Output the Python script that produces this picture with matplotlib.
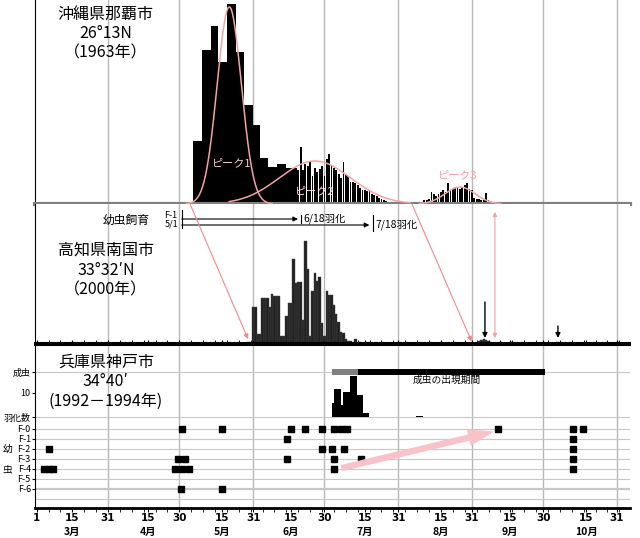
import numpy as np
import matplotlib
matplotlib.use('Agg')
import matplotlib.pyplot as plt
from matplotlib.patches import ConnectionPatch
from matplotlib.transforms import blended_transform_factory

# 日本語フォント
plt.rcParams['font.family'] = ['Noto Sans CJK JP', 'DejaVu Sans']

# ---- データ（横軸は3月1日=1 とした通日）----
month_end_days = [31, 61, 92, 122, 153, 184, 214, 245]
tick_days = [1, 16, 31, 48, 61, 79, 92, 108, 122, 139, 153, 171, 184, 200, 214, 232, 245]
tick_labels = ['1', '15', '31', '15', '30', '15', '31', '15', '30',
               '15', '31', '15', '31', '15', '30', '15', '31']
month_days = [16, 48, 79, 108, 139, 171, 200, 232]
month_labels = ['3月', '4月', '5月', '6月', '7月', '8月', '9月', '10月']

# 沖縄（1963年）: 前半は半旬ほどの階級、後半は日別
okinawa_bin_edges = [66.9, 70.7, 74.2, 77.4, 80.9, 84.7, 88.3, 91.8, 94.9, 98.4, 101.9, 105.9, 109.6]
okinawa_bin_counts = [63, 154, 178, 142, 200, 152, 99, 79, 46, 37, 40, 36]
okinawa_days = list(range(110, 152)) + list(range(158, 193))
okinawa_counts = [36, 34, 57, 34, 40, 38, 42, 28, 36, 32, 35, 38, 28, 45, 50, 38, 36, 34, 30, 26,
                  42, 30, 28, 22, 22, 21, 19, 16, 14, 14, 13, 13, 10, 9, 8, 6, 5, 4, 3, 2, 2, 1,
                  1, 2, 1, 2, 1, 2, 4, 4, 5, 12, 10, 8, 10, 12, 14, 12, 21, 14, 15, 16, 16, 15,
                  17, 19, 21, 15, 14, 6, 5, 5, 4, 4, 11, 4, 2]

# 正規分布のあてはめ（ピーク1〜3）
peak_centers = [82.0, 118.0, 179.0]
peak_sigmas = [5.1, 15.0, 6.3]
peak_heights = [197, 43, 17]
peak_from = [64, 82, 162]
peak_to = [100, 158, 196]

# 高知（2000年）日別
kochi_days = list(range(90, 138)) + [187, 188, 189, 190, 191, 192, 196, 201, 220]
kochi_counts = [1, 1, 36, 36, 9, 9, 45, 45, 45, 36, 49, 47, 47, 47, 7, 7, 27, 40, 40, 84,
                60, 61, 61, 23, 102, 74, 7, 52, 70, 62, 66, 20, 7, 52, 48, 48, 38, 29, 21, 11,
                10, 4, 2, 2, 0, 4, 0, 1,
                2, 3, 4, 3, 2, 1, 1, 1, 1]

# 神戸（1992-1994年）
row_labels = ['F-0', 'F-1', 'F-2', 'F-3', 'F-4', 'F-5', 'F-6']
f0_days = [62.3, 79.1, 107.8, 113.8, 120.8, 126.2, 129.0, 131.3, 195.1, 226.6, 230.9]
f1_days = [106.1, 226.6]
f2_days = [6.0, 121.0, 125.0, 130.2, 226.6]
f3_days = [60.4, 63.4, 106.1, 126.1, 137.4, 226.6]
f4_days = [4.0, 6.0, 8.0, 59.0, 62.0, 65.0, 126.1, 226.6]
f5_days = []
f6_days = [61.9, 79.1]
emerge_edges = [125.1, 126.0, 128.9, 129.7, 132.8, 135.6, 138.4, 140.9, 160.5, 163.5]
emerge_counts = [5.7, 11.5, 5.0, 10.3, 17.1, 9.2, 1.7, 0, 0.5]
adult_first = 125.0
adult_main = 136.0
adult_last = 214.8

fig = plt.figure(figsize=(6.4, 5.38), dpi=100)
L, W = 35 / 640, 595 / 640
ax1 = fig.add_axes([L, 1 - 204 / 538, W, 204 / 538])
ax2 = fig.add_axes([L, 1 - 343 / 538, W, 139 / 538], sharex=ax1)
ax3 = fig.add_axes([L, 1 - 508 / 538, W, 163 / 538], sharex=ax1)
ax3b = fig.add_axes([L, 1 - 508 / 538, W, 163 / 538], sharex=ax1)
ax3b.patch.set_visible(False)
ax3b.axis('off')

ax1.set_xlim(0.3, 250.5)
for ax in (ax1, ax2, ax3):
    for d in month_end_days:
        ax.axvline(d, color='#b8b8b8', lw=1, zorder=0)
    ax.spines['right'].set_visible(False)
    ax.set_xticks(np.arange(1, 250, 5), minor=True)

# ---- 沖縄 ----
ax1.stairs(okinawa_bin_counts, okinawa_bin_edges, fill=True, color='black', zorder=2)
ax1.bar(okinawa_days, okinawa_counts, width=0.75, color='black', zorder=2)
for c, s, h, a, b in zip(peak_centers, peak_sigmas, peak_heights, peak_from, peak_to):
    xs = np.linspace(a, b, 200)
    ax1.plot(xs, h * np.exp(-0.5 * ((xs - c) / s) ** 2), color='#f2a4a4', lw=1.1, zorder=3)
ax1.text(83.1, 41, 'ピーク1', color='#ffcccc', fontsize=8, ha='center', va='center', zorder=4)
ax1.text(118, 13, 'ピーク2', color='#ffd6d6', fontsize=8, ha='center', va='center', zorder=4)
ax1.text(178.2, 29, 'ピーク3', color='#ff9c9c', fontsize=8, ha='center', va='center', zorder=4)
ax1.set_ylim(0, 204)
ax1.spines['top'].set_visible(False)
ax1.spines['bottom'].set_color('#808080')
ax1.spines['bottom'].set_linewidth(3)
ax1.set_yticks([])
ax1.tick_params(axis='x', which='both', labelbottom=False, direction='inout', length=3, color='black')
ax1.text(0.119, 0.836, '沖縄県那覇市\n26°13N\n（1963年）', transform=ax1.transAxes,
         ha='center', va='center', fontsize=11.5, linespacing=1.2)

# ---- 高知 ----
ax2.bar(kochi_days, kochi_counts, width=1.0, color='#222222', edgecolor='#444444', lw=0.3, zorder=2)
ax2.set_ylim(0, 139)
ax2.spines['top'].set_visible(False)
ax2.spines['bottom'].set_linewidth(1.5)
ax2.set_yticks([])
ax2.tick_params(axis='x', which='both', labelbottom=False, direction='inout', length=4)
ax2.text(0.119, 0.525, '高知県南国市\n33°32′N\n（2000年）', transform=ax2.transAxes,
         ha='center', va='center', fontsize=11.5, linespacing=1.2)

# 幼虫飼育の注記
ax2.text(48.7, 123, '幼虫飼育', fontsize=8.5, ha='right', va='center')
ax2.text(60.0, 128, 'F-1', fontsize=6.5, ha='right', va='center')
ax2.text(60.4, 119, '5/1', fontsize=6.5, ha='right', va='center')
ax2.plot([62, 62], [115, 133], color='black', lw=0.8)
ax2.annotate('', xy=(110.9, 124), xytext=(62, 124),
             arrowprops=dict(arrowstyle='-|>', color='black', lw=0.8, mutation_scale=7,
                             shrinkA=0, shrinkB=0))
ax2.plot([112, 112], [120, 128], color='black', lw=0.8)
ax2.text(113, 124, '6/18羽化', fontsize=7.5, ha='left', va='center')
ax2.annotate('', xy=(140.9, 118), xytext=(62, 118),
             arrowprops=dict(arrowstyle='-|>', color='black', lw=0.8, mutation_scale=7,
                             shrinkA=0, shrinkB=0))
ax2.plot([142.3, 142.3], [112, 128], color='black', lw=0.8)
ax2.text(143.3, 118, '7/18羽化', fontsize=7.5, ha='left', va='center')

# 矢印
ax2.annotate('', xy=(189.5, 5), xytext=(189.5, 41),
             arrowprops=dict(arrowstyle='-|>', color='black', lw=1, mutation_scale=7, shrinkA=0, shrinkB=0))
ax2.annotate('', xy=(220.2, 5), xytext=(220.2, 17),
             arrowprops=dict(arrowstyle='-|>', color='black', lw=1, mutation_scale=7, shrinkA=0, shrinkB=0))
ax2.annotate('', xy=(193.7, 5), xytext=(193.7, 131),
             arrowprops=dict(arrowstyle='<|-|>', color='#f4a0a0', lw=0.8, mutation_scale=6,
                             shrinkA=0, shrinkB=0))
for d1, d2, y2 in [(65.5, 89.9, 4), (158.8, 183.9, 1.5)]:
    con = ConnectionPatch(xyA=(d1, 0), coordsA=ax1.transData, xyB=(d2, y2), coordsB=ax2.transData,
                          arrowstyle='-|>', color='#f08a8a', lw=0.8, mutation_scale=7, zorder=5)
    fig.add_artist(con)

# ---- 神戸 ----
ax3.set_ylim(7.9, -8.4)
for y in [-5.7, -1.2, 0, 1, 2, 3, 4, 5, 7]:
    ax3.axhline(y, color='#c8c8c8', lw=0.8, zorder=0)
ax3.axhline(6, color='#c8c8c8', lw=1.6, zorder=0)
for i, days in enumerate([f0_days, f1_days, f2_days, f3_days, f4_days, f5_days, f6_days]):
    if days:
        ax3.plot(days, [i] * len(days), 's', color='black', ms=5, zorder=3)
ax3.barh(-5.7, adult_main - adult_first, left=adult_first, height=0.55, color='#808080', zorder=2)
ax3.barh(-5.7, adult_last - adult_main, left=adult_main, height=0.55, color='black', zorder=2)
ax3.text(173.5, -4.9, '成虫の出現期間', fontsize=7, ha='center', va='center')
ax3.annotate('', xy=(192.5, 0.3), xytext=(129.4, 3.9),
             arrowprops=dict(arrowstyle='simple,head_width=0.9,head_length=1.4,tail_width=0.3',
                             color='#f9c2c8', mutation_scale=12, shrinkA=0, shrinkB=0), zorder=4)

ax3b.set_ylim(-37.9, 30)
ax3b.stairs(emerge_counts, emerge_edges, fill=True, color='black')

ax3.set_yticks([-5.7, -3.6, -1.2, 0, 1, 2, 3, 4, 5, 6])
ax3.set_yticklabels(['成虫', '10', '羽化数'] + row_labels, fontsize=6.5)
ax3.tick_params(axis='y', length=2, pad=1)
trans = blended_transform_factory(ax3.transAxes, ax3.transData)
ax3.text(-0.046, 2, '幼', transform=trans, fontsize=7, ha='center', va='center')
ax3.text(-0.046, 4, '虫', transform=trans, fontsize=7, ha='center', va='center')
ax3.text(0.119, 0.776, '兵庫県神戸市\n34°40′\n(1992－1994年)', transform=ax3.transAxes,
         ha='center', va='center', fontsize=11.5, linespacing=1.2)

ax3.spines['top'].set_linewidth(1.5)
ax3.spines['bottom'].set_linewidth(2)
ax3.set_xticks(tick_days)
ax3.set_xticklabels(tick_labels, fontsize=7.5, fontweight='bold', family='DejaVu Sans')
ax3.tick_params(axis='x', which='both', direction='out', length=3, top=True, pad=0.5)

# 月の表示
mtrans = blended_transform_factory(ax3.transData, fig.transFigure)
for d, m in zip(month_days, month_labels):
    ax3.text(d, 1 - 537 / 538, m, transform=mtrans, fontsize=7.5, fontweight='bold',
             ha='center', va='bottom')

fig.savefig('out.png', dpi=100)
